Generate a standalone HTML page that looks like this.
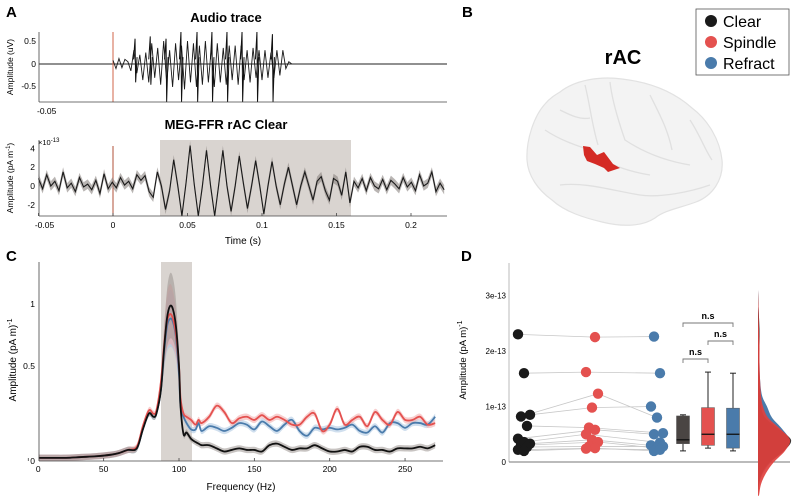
<!DOCTYPE html>
<html><head><meta charset="utf-8"><style>
html,body{margin:0;padding:0;background:#fff}
svg{display:block;font-family:"Liberation Sans",sans-serif}
</style></head><body>
<svg id="fig" width="800" height="499" viewBox="0 0 800 499">
<text x="6" y="17" font-size="15" font-weight="bold">A</text>
<text x="462" y="17" font-size="15" font-weight="bold">B</text>
<text x="6" y="261" font-size="15" font-weight="bold">C</text>
<text x="461" y="261" font-size="15" font-weight="bold">D</text>

<text x="226" y="22" font-size="13" font-weight="bold" text-anchor="middle">Audio trace</text>
<g id="a1"></g>
<line x1="39" y1="32" x2="39" y2="102" stroke="#444" stroke-width="0.8"/>
<line x1="39" y1="102" x2="447" y2="102" stroke="#444" stroke-width="0.8"/>
<text x="36" y="44" font-size="8.5" text-anchor="end">0.5</text>
<text x="36" y="67" font-size="8.5" text-anchor="end">0</text>
<text x="36" y="89" font-size="8.5" text-anchor="end">-0.5</text>
<text x="37" y="114" font-size="8.5">-0.05</text>
<text transform="translate(13,67) rotate(-90)" font-size="8.5" text-anchor="middle">Amplitude (uV)</text>

<text x="226" y="129" font-size="13" font-weight="bold" text-anchor="middle">MEG-FFR rAC Clear</text>
<rect x="160" y="140" width="191" height="76" fill="#d9d4d0"/>
<g id="a2"></g>
<line x1="39" y1="140" x2="39" y2="216" stroke="#444" stroke-width="0.8"/>
<line x1="39" y1="216" x2="447" y2="216" stroke="#444" stroke-width="0.8"/>
<text x="38" y="145" font-size="7.5">×10<tspan dy="-3" font-size="6">-13</tspan></text>
<g id="a2ticks" font-size="8.5"></g>
<text x="243" y="244" font-size="10" text-anchor="middle">Time (s)</text>
<text transform="translate(13,178) rotate(-90)" font-size="8.5" text-anchor="middle">Amplitude (pA m<tspan dy="-3" font-size="6">-1</tspan><tspan dy="3">)</tspan></text>

<text x="623" y="64" font-size="20" font-weight="bold" text-anchor="middle">rAC</text>
<g>
<path d="M560,92 C575,80 600,76 622,79 C648,82 672,90 692,108 C708,120 720,140 722,160 C724,180 712,196 696,202 C680,208 665,210 655,218 C640,228 618,226 602,222 C585,218 565,212 552,200 C538,190 528,176 527,160 C526,140 534,116 545,104 C550,98 555,95 560,92 Z" fill="#f3f3f3" stroke="#e2e2e2" stroke-width="1.2"/>
<g fill="none" stroke="#e0e0e0" stroke-width="1.3">
<path d="M585,85 C590,105 592,125 598,145"/>
<path d="M610,82 C612,100 618,120 625,140 C640,150 660,160 690,165"/>
<path d="M545,130 C560,140 575,145 590,150 C600,160 620,170 650,175"/>
<path d="M560,185 C585,182 610,190 640,195 C660,198 690,192 710,185"/>
<path d="M650,95 C660,115 668,130 672,150"/>
<path d="M560,110 C570,115 580,120 590,118"/>
<path d="M690,120 C700,135 705,150 712,160"/>
</g>
<polygon points="583,146 590,147 597,155 604,152 613,164 620,168 608,172 604,168 595,164 587,161 584,155" fill="#d42a24"/>
</g>
<g>
<rect x="696" y="9" width="93" height="66" fill="#fff" stroke="#555" stroke-width="0.8"/>
<circle cx="711" cy="21" r="6" fill="#1a1a1a"/>
<text x="723" y="27" font-size="16">Clear</text>
<circle cx="711" cy="42" r="6" fill="#e4514f"/>
<text x="723" y="48" font-size="16">Spindle</text>
<circle cx="711" cy="63" r="6" fill="#4a7bab"/>
<text x="723" y="69" font-size="16">Refract</text>
</g>

<rect x="161" y="262" width="31" height="199" fill="#d9d4d0"/>
<g id="c"></g>
<line x1="39" y1="262" x2="39" y2="461" stroke="#444" stroke-width="0.8"/>
<line x1="39" y1="461" x2="443" y2="461" stroke="#444" stroke-width="0.8"/>
<g id="cticks" font-size="8.5"></g>
<text x="241" y="490" font-size="10" text-anchor="middle">Frequency (Hz)</text>
<text transform="translate(16,360) rotate(-90)" font-size="10" text-anchor="middle">Amplitude (pA m)<tspan dy="-4" font-size="7">-1</tspan></text>

<g id="d"></g>
<text transform="translate(466,360) rotate(-90)" font-size="9.5" text-anchor="middle">Amplitude (pA m)<tspan dy="-4" font-size="7">-1</tspan></text>
</svg>
<script>
var audioTimesStart = 0.0, audioStep = 0.002;
var audioNoise = [0.08,-0.1,0.12,-0.08,0.1,0.05,-0.15,0.3,-0.2,0.2,-0.35,0.25,-0.4,0.45,-0.3,0.35,-0.45,0.5,-0.4,0.3,-0.5,0.45,-0.35,0.4,-0.55,0.5,-0.4,0.45,-0.5,0.4,-0.45,0.5,-0.4,0.35,-0.5,0.45,-0.4,0.35,-0.45,0.4,-0.35,0.4,-0.45,0.4,-0.35,0.3,-0.4,0.35,-0.3,0.3,-0.35,0.3,-0.3,0.25,-0.3,0.3,-0.25,0.3,-0.1,0.05,0];
var pulseTimes = [0.0148,0.025,0.0356,0.0456,0.0564,0.0664,0.0765,0.0866,0.0966,0.107];
var pulseUp = [0.55,0.6,0.55,0.7,0.7,0.7,0.7,0.7,0.7,0.65];
var pulseDown = [-0.4,-0.45,-0.85,-0.85,-0.85,-0.85,-0.85,-0.85,-0.85,-0.85];
var megStart = -0.05, megStep = 0.00275;
var megValues = [0.8,-0.3,1.2,0,0.5,-0.5,1.5,-0.2,0.3,-0.6,0.9,-0.1,0.2,-0.4,0.6,-0.8,1.3,-0.3,0.4,-0.2,0.9,0.1,0.5,-0.3,1.2,0.6,1.1,-0.6,-1.2,
 1.5,0,-2.5,-0.5,2.8,0,-3.2,0.3,4.3,0.2,-3.3,0,3.8,0,-3.3,0.2,3.8,0,-2.7,0,3.2,0.3,-2.4,0,2.7,0,-3,0,2.6,0,-2,0.2,2,0,-2,0,1.5,0,-1.5,0.5,1,-0.5,-1.5,0.8,0.5,-1,1.5,-1.8,
 0.5,-0.2,0.8,-0.5,0.9,0,-0.3,0.7,-0.4,0.6,0.2,-0.3,0.9,-0.1,0.4,-0.5,1.2,0,0.3,1.5,-0.6,0.3,-0.4];
var megYTicks = [-2,0,2,4];
var timeTicks = [-0.05,0,0.05,0.1,0.15,0.2];
var timeTickLabels = ["-0.05","0","0.05","0.1","0.15","0.2"];
var freqs = [7,15,25,35,45,55,60,66,72,76,80,83,85,88,90,92,94,96,98,100,101,103,105,108,111,113,115,120,125,130,135,140,145,150,155,160,165,170,175,180,185,190,195,200,205,210,215,220,225,230,235,240,245,250,255,260,265,270];
var clearSpec = [0.02,0.02,0.02,0.025,0.03,0.04,0.05,0.07,0.08,0.2,0.3,0.28,0.3,0.45,0.7,0.9,0.98,0.96,0.85,0.6,0.35,0.17,0.18,0.14,0.12,0.11,0.1,0.1,0.08,0.06,0.07,0.08,0.07,0.07,0.06,0.1,0.11,0.09,0.07,0.08,0.08,0.1,0.08,0.06,0.06,0.07,0.06,0.09,0.09,0.07,0.07,0.06,0.08,0.08,0.08,0.09,0.08,0.1];
var spindleSpec = [0.02,0.02,0.02,0.025,0.03,0.04,0.05,0.07,0.09,0.22,0.32,0.3,0.32,0.5,0.72,0.88,0.93,0.9,0.8,0.6,0.4,0.3,0.28,0.26,0.23,0.26,0.24,0.28,0.35,0.31,0.24,0.27,0.28,0.26,0.29,0.26,0.28,0.26,0.23,0.23,0.28,0.3,0.19,0.23,0.33,0.23,0.26,0.28,0.22,0.31,0.26,0.23,0.31,0.26,0.26,0.28,0.23,0.24];
var refractSpec = [0.02,0.02,0.02,0.025,0.03,0.04,0.05,0.07,0.08,0.2,0.3,0.28,0.3,0.45,0.68,0.85,0.9,0.88,0.78,0.55,0.35,0.28,0.24,0.2,0.2,0.24,0.19,0.22,0.21,0.19,0.21,0.24,0.23,0.2,0.25,0.22,0.19,0.23,0.26,0.19,0.16,0.21,0.2,0.21,0.2,0.21,0.23,0.19,0.18,0.22,0.18,0.24,0.24,0.21,0.24,0.24,0.23,0.28];
var freqTicks = [0,50,100,150,200,250];
var clearVals = [2.3,1.6,0.85,0.82,0.65,0.42,0.36,0.33,0.3,0.27,0.22,0.2];
var spindleVals = [2.25,1.62,0.98,1.23,0.62,0.58,0.5,0.4,0.36,0.28,0.25,0.24];
var refractVals = [2.26,1.6,1.0,0.8,0.52,0.5,0.35,0.3,0.25,0.28,0.2,0.22];
var boxQ1 = [0.33,0.3,0.25];
var boxMedian = [0.4,0.5,0.5];
var boxQ3 = [0.83,0.98,0.97];
var boxLow = [0.2,0.25,0.2];
var boxHigh = [0.85,1.62,1.6];
var ampTicks = [0,1,2,3];
var ampTickLabels = ["0","1e-13","2e-13","3e-13"];
var densAmp = [-0.6,-0.4,-0.2,0,0.2,0.4,0.6,0.8,1.0,1.2,1.5,1.8,2.1,2.4,2.8,3.1];
var densRed = [1,3,8,16,27,32,22,10,5,3,2,1.5,1.5,1,0.5,0];
var densBlack = [0,1,4,12,26,33,20,7,3,2,1.5,1,1.5,1.5,0.5,0];
var densBlue = [0,1,5,13,25,31,24,14,9,4,2,1.5,1,1,0.5,0];

var NS = "http://www.w3.org/2000/svg";
function mk(tag, attrs, parent){var e=document.createElementNS(NS,tag);for(var k in attrs)e.setAttribute(k,attrs[k]);parent.appendChild(e);return e;}
function smooth(pts){var d="M"+pts[0][0]+","+pts[0][1];for(var i=0;i<pts.length-1;i++){var p0=pts[Math.max(0,i-1)],p1=pts[i],p2=pts[i+1],p3=pts[Math.min(pts.length-1,i+2)];d+=" C"+(p1[0]+(p2[0]-p0[0])/6)+","+(p1[1]+(p2[1]-p0[1])/6)+" "+(p2[0]-(p3[0]-p1[0])/6)+","+(p2[1]-(p3[1]-p1[1])/6)+" "+p2[0]+","+p2[1];}return d;}
function clip(v,a,b){return Math.max(a,Math.min(b,v));}

var xA = function(t){return 113+t*1490;};
var yA1 = function(v){return clip(64-v*46,32,102);};
var yA2 = function(v){return clip(186-v*9.4,140,216);};
var a1 = document.getElementById('a1');
var base = mk('line',{x1:39,y1:64,x2:447,y2:64,stroke:'#222','stroke-width':1},a1);


var onset1 = mk('line',{x1:xA(0),y1:32,x2:xA(0),y2:102,stroke:'#d0664a','stroke-width':1},a1);


var pts=[];
for(var i=0;i<audioNoise.length;i++){pts.push(xA(audioTimesStart+i*audioStep)+","+yA1(audioNoise[i]));}
var aw = mk('polyline',{points:pts.join(' '),fill:'none',stroke:'#1a1a1a','stroke-width':0.9},a1);


for(var i=0;i<pulseTimes.length;i++){
  var px=xA(pulseTimes[i]);
  var pl = mk('polyline',{points:(px-1.5)+","+yA1(0.1)+" "+px+","+yA1(pulseUp[i])+" "+(px+0.6)+","+yA1(pulseDown[i])+" "+(px+2)+","+yA1(0.15),fill:'none',stroke:'#111','stroke-width':1},a1);
  
  
}
var a2 = document.getElementById('a2');
var onset2 = mk('line',{x1:xA(0),y1:146,x2:xA(0),y2:216,stroke:'#b0503a','stroke-width':1},a2);


var mp=[],bandU=[],bandL=[];
for(var i=0;i<megValues.length;i++){var x=xA(megStart+i*megStep);mp.push([x,yA2(megValues[i])]);bandU.push([x,yA2(megValues[i]+0.5)]);bandL.push([x,yA2(megValues[i]-0.5)]);}
var bandPath = "M"+bandU.map(function(p){return p.join(',');}).join(' L')+" L"+bandL.reverse().map(function(p){return p.join(',');}).join(' L')+"Z";
var mb = mk('path',{d:bandPath,fill:'#8a8480',opacity:0.6},a2);


var ml = mk('polyline',{points:mp.map(function(p){return p.join(',');}).join(' '),fill:'none',stroke:'#1a1a1a','stroke-width':1.1},a2);


var a2t = document.getElementById('a2ticks');
for(var i=0;i<megYTicks.length;i++){
  var t = mk('text',{x:35,y:yA2(megYTicks[i])+3,'text-anchor':'end'},a2t);
  t.textContent = megYTicks[i];
  
  
}
for(var i=0;i<timeTicks.length;i++){
  var t = mk('text',{x:xA(timeTicks[i])+(i==0?6:0),y:228,'text-anchor':'middle'},a2t);
  t.textContent = timeTickLabels[i];
  
  
  var tk = mk('line',{x1:xA(timeTicks[i]),y1:216,x2:xA(timeTicks[i]),y2:213,stroke:'#444','stroke-width':0.8},a2t);
  
  
}

var xC = function(f){return 28.3+1.507*f;};
var yC = function(v){return clip(461-158*v,262,461);};
var cg = document.getElementById('c');
var specs = [[refractSpec,'#4a7bab','#a9c4e0','refract'],[spindleSpec,'#e4514f','#f2a8a8','spindle'],[clearSpec,'#111','#9a948f','clear']];
for(var s=0;s<specs.length;s++){
  var arr=specs[s][0],up=[],lo=[],ln=[];
  for(var i=0;i<freqs.length;i++){var w=0.02+0.32*Math.max(0,arr[i]-0.4);up.push([xC(freqs[i]),yC(arr[i]+w)]);lo.push([xC(freqs[i]),yC(arr[i]-w)]);ln.push([xC(freqs[i]),yC(arr[i])]);}
  var d = smooth(up)+" L"+smooth(lo.slice().reverse()).slice(1)+" Z";
  var b = mk('path',{d:d,fill:specs[s][2],opacity:0.55},cg);
  
  
  specs[s].push(ln);
}
for(var s=0;s<specs.length;s++){
  var l = mk('path',{d:smooth(specs[s][4]),fill:'none',stroke:specs[s][1],'stroke-width':1.8},cg);
  
  
}
var ct = document.getElementById('cticks');
for(var i=0;i<freqTicks.length;i++){
  var t = mk('text',{x:xC(freqTicks[i])+(i==0?10:0),y:472,'text-anchor':'middle'},ct);
  t.textContent = freqTicks[i];
  
  
  var tk = mk('line',{x1:xC(freqTicks[i]),y1:461,x2:xC(freqTicks[i]),y2:458,stroke:'#444','stroke-width':0.8},ct);
  
  
}
var cyl = [[0,"0",464],[0.5,"0.5",369],[1,"1",307]];
for(var i=0;i<cyl.length;i++){
  var t = mk('text',{x:35,y:cyl[i][2],'text-anchor':'end'},ct);
  t.textContent = cyl[i][1];
  
  
}

var yD = function(v){return 462-55.5*v;};
var dg = document.getElementById('d');
var ax = mk('line',{x1:509,y1:263,x2:509,y2:462,stroke:'#bbb','stroke-width':1},dg);


var bl = mk('line',{x1:509,y1:462,x2:790,y2:462,stroke:'#777','stroke-width':1},dg);


for(var i=0;i<ampTicks.length;i++){
  var t = mk('text',{x:506,y:yD(ampTicks[i])+3,'text-anchor':'end','font-size':8},dg);
  t.textContent = ampTickLabels[i];
  
  
}
var densSets=[[densBlue,'#4a7bab','blue'],[densBlack,'#333','black'],[densRed,'#e0403d','red']];
for(var s=0;s<densSets.length;s++){
  var pp=[[758,yD(densAmp[0])]];
  for(var i=0;i<densAmp.length;i++)pp.push([758+densSets[s][0][i],yD(densAmp[i])]);
  pp.push([758,yD(densAmp[densAmp.length-1])]);
  var dd = mk('path',{d:smooth(pp)+" Z",fill:densSets[s][1],opacity:s==2?0.92:1},dg);
  
  
}
var groups=[[clearVals,524,'#1a1a1a','clear'],[spindleVals,592,'#e4514f','spindle'],[refractVals,657,'#4a7bab','refract']];
function jit(i,g){return ((i*7+g*3)%5-2)*3;}
for(var i=0;i<clearVals.length;i++){
  var p = [];
  for(var g=0;g<3;g++)p.push((groups[g][1]+jit(i,g))+","+yD(groups[g][0][i]));
  var pl = mk('polyline',{points:p.join(' '),fill:'none',stroke:'#c8c8c8','stroke-width':0.8},dg);
  
  
}
for(var g=0;g<3;g++){
  for(var i=0;i<groups[g][0].length;i++){
    var c = mk('circle',{cx:groups[g][1]+jit(i,g),cy:yD(groups[g][0][i]),r:5.2,fill:groups[g][2]},dg);
    
    
  }
}
var boxX=[683,708,733],boxFill=['#4a4543','#e4514f','#4a7bab'],boxNames=['clear','spindle','refract'];
for(var g=0;g<3;g++){
  var w = mk('line',{x1:boxX[g],y1:yD(boxLow[g]),x2:boxX[g],y2:yD(boxHigh[g]),stroke:'#222','stroke-width':1},dg);
  
  
  var c1 = mk('line',{x1:boxX[g]-3,y1:yD(boxLow[g]),x2:boxX[g]+3,y2:yD(boxLow[g]),stroke:'#222','stroke-width':1},dg);
  
  
  var c2 = mk('line',{x1:boxX[g]-3,y1:yD(boxHigh[g]),x2:boxX[g]+3,y2:yD(boxHigh[g]),stroke:'#222','stroke-width':1},dg);
  
  
  var r = mk('rect',{x:boxX[g]-6.5,y:yD(boxQ3[g]),width:13,height:yD(boxQ1[g])-yD(boxQ3[g]),fill:boxFill[g],stroke:'#555','stroke-width':0.5},dg);
  
  
  var m = mk('line',{x1:boxX[g]-6.5,y1:yD(boxMedian[g]),x2:boxX[g]+6.5,y2:yD(boxMedian[g]),stroke:'#111','stroke-width':1.3},dg);
  
  
}
var brk=[[0,2,323],[1,2,341],[0,1,359]];
for(var i=0;i<brk.length;i++){
  var x1=boxX[brk[i][0]],x2=boxX[brk[i][1]],y=brk[i][2];
  var b = mk('polyline',{points:x1+","+(y+4)+" "+x1+","+y+" "+x2+","+y+" "+x2+","+(y+4),fill:'none',stroke:'#777','stroke-width':0.9},dg);
  
  
  var t = mk('text',{x:(x1+x2)/2,y:y-4,'text-anchor':'middle','font-size':9,'font-weight':'bold'},dg);
  t.textContent = 'n.s';
  
  
}
</script>
</body></html>
